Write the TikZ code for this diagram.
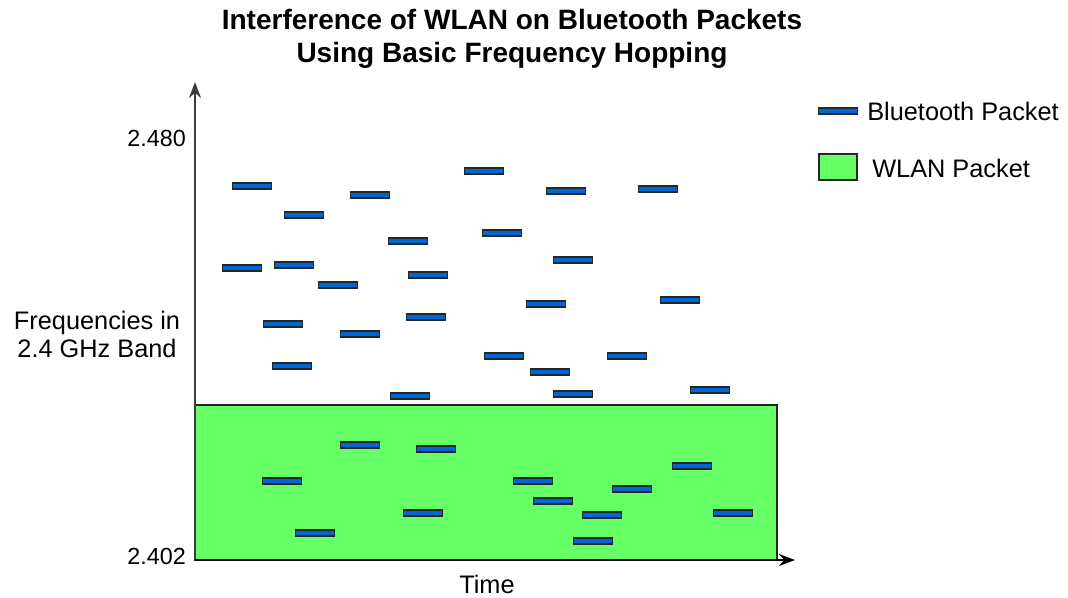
\documentclass[tikz,border=0pt]{standalone}
\usepackage{fontspec}
\setmainfont{Liberation Sans}
\usetikzlibrary{arrows.meta}
\definecolor{btblue}{RGB}{0,102,214}
\definecolor{wgreen}{RGB}{102,255,102}
\definecolor{axisgray}{RGB}{60,60,60}
\tikzset{
  pkt/.style={draw=black!85, line width=1.2pt, fill=btblue, rectangle, inner sep=0pt, minimum width=29pt, minimum height=4.5pt},
  wlanbox/.style={draw=black!85, line width=1.4pt, fill=wgreen},
  axisline/.style={draw=axisgray, line width=1.4pt, -{Stealth[length=12pt,width=9pt]}},
  lbl/.style={font=\fontsize{19}{21}\selectfont, inner sep=0pt},
  numlbl/.style={font=\fontsize{17.5}{21}\selectfont, inner sep=0pt},
  ttl/.style={font=\fontsize{21}{24.5}\selectfont\bfseries, align=center, inner sep=0pt}
}
\begin{document}
\begin{tikzpicture}[x=0.75pt,y=-0.75pt]
\useasboundingbox (0,0) rectangle (1068,597);
% title
\node[ttl] (title) at (512,39) {Interference of WLAN on Bluetooth Packets\\Using Basic Frequency Hopping};
% WLAN area
\coordinate (wtl) at (195,405);
\coordinate (wbr) at (777,560);
\draw[wlanbox] (wtl) rectangle (wbr);
% axes
\coordinate (O) at (195,560);
\coordinate (ytop) at (195,82);
\coordinate (xend) at (795,560);
\draw[axisline] (O) -- (ytop);
\draw[axisline, draw=black] (O) -- (xend);
% axis labels
\node[numlbl, anchor=east] (f480) at (186,138) {2.480};
\node[numlbl, anchor=east] (f402) at (186,556) {2.402};
\node[lbl, align=center] (ylab) at (97,334) {Frequencies in\\2.4 GHz Band};
\node[lbl] (xlab) at (487,584) {Time};
% packets above WLAN
\foreach \n/\x/\y in {a1/252/186, a2/304/215, a3/370/195, a4/484/171, a5/566/191, a6/658/189,
  a7/408/241, a8/502/233, a9/242/268, a10/294/265, a11/338/285, a12/428/275, a13/573/260,
  a14/546/304, a15/680/300, a16/283/324, a17/360/334, a18/426/317, a19/292/366, a20/504/356,
  a21/550/372, a22/627/356, a23/410/396, a24/573/394, a25/710/390}
  \node[pkt] (\n) at (\x,\y) {};
% packets inside WLAN
\foreach \n/\x/\y in {b1/360/445, b2/436/449, b3/282/481, b4/533/481, b5/553/501, b6/632/489,
  b7/692/466, b8/423/513, b9/602/515, b10/733/513, b11/315/533, b12/593/541}
  \node[pkt] (\n) at (\x,\y) {};
% legend
\node[pkt] (legbt) at (838,111) {};
\node[lbl, anchor=west] (legbttext) at (867,111) {Bluetooth Packet};
\node[wlanbox, rectangle, minimum width=29pt, minimum height=19pt, inner sep=0pt] (legw) at (838,167) {};
\node[lbl, anchor=west] (legwtext) at (872,168) {WLAN Packet};
\end{tikzpicture}
\end{document}
